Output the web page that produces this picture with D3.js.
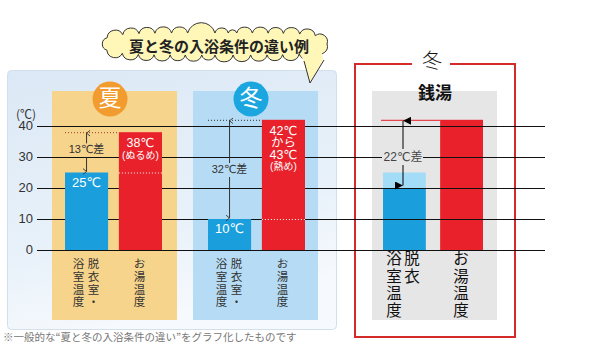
<!DOCTYPE html>
<html>
<head>
<meta charset="utf-8">
<script src="https://cdn.jsdelivr.net/npm/d3@7"></script>
<style>
  body { margin: 0; background: #fff; }
  svg { display: block; }
  text { font-family: "Noto Sans CJK JP", "Noto Sans", sans-serif; }
  .num { font-family: "Liberation Sans", "DejaVu Sans", "Noto Sans CJK JP", sans-serif; }
</style>
</head>
<body>
<svg id="chart"></svg>
<script>
// ---- data ----
const yTicks = [0, 10, 20, 30, 40]
const seasons = ['夏', '冬']
const roomTemps = [25, 10]
const bathTemps = [38, 42]
const roomLabels = [['25℃'], ['10℃']]
const bathLabels = [['38℃', '(ぬるめ)'], ['42℃', 'から', '43℃', '(熱め)']]
const diffLabels = ['13℃差', '32℃差']
const categories = ['room', 'bath']
const sentoTitle = '銭湯'
const sentoSeason = '冬'
const sentoRoomLow = 20
const sentoRoom = 25
const sentoBath = 42
const sentoDiff = '22℃差'
const title = '夏と冬の入浴条件の違い例'
const footnote = '※一般的な“夏と冬の入浴条件の違い”をグラフ化したものです'

const width = 595, height = 358
const svg = d3.select('#chart').attr('width', width).attr('height', height)

const colBlue = '#1a9fdc', colRed = '#e8212b'

let scale_y = d3.scaleLinear().domain([0, 40]).range([250, 126])
const lineX0 = 37, lineX1 = 545

// defs: gradient + markers
const defs = svg.append('defs')
const grad = defs.append('linearGradient').attr('id', 'bgGrad')
    .attr('x1', 0).attr('y1', 0).attr('x2', 0.3).attr('y2', 1)
grad.append('stop').attr('offset', 0).attr('stop-color', '#dbe8f5')
grad.append('stop').attr('offset', 0.7).attr('stop-color', '#e9f2fa')
grad.append('stop').attr('offset', 1).attr('stop-color', '#f6f9fd')

defs.append('marker').attr('id', 'chev')
    .attr('viewBox', '0 0 10 10').attr('refX', 5).attr('refY', 1)
    .attr('markerWidth', 7).attr('markerHeight', 7).attr('markerUnits', 'userSpaceOnUse')
    .attr('orient', 'auto-start-reverse')
    .append('path').attr('d', 'M1,6 L5,1 L9,6').attr('fill', 'none')
    .attr('stroke', '#333').attr('stroke-width', 1.3)
defs.append('marker').attr('id', 'tri')
    .attr('viewBox', '0 0 10 10').attr('refX', 5).attr('refY', 0)
    .attr('markerWidth', 8).attr('markerHeight', 8).attr('markerUnits', 'userSpaceOnUse')
    .attr('orient', 'auto-start-reverse')
    .append('path').attr('d', 'M0,10 L5,0 L10,10 Z').attr('fill', '#000')

// outer light box
svg.append('rect').attr('x', 7.5).attr('y', 70.5).attr('width', 329).attr('height', 259)
    .attr('rx', 4).attr('fill', 'url(#bgGrad)').attr('stroke', '#d3e0ec')

// ---- title cloud ----
function cloudPath(cx, cy, rx, ry, bumpLen) {
    // superellipse outline sampled by arc length, then little arcs between points
    let pts = []
    for (let i = 0; i <= 720; i++) {
        let t = i / 720 * 2 * Math.PI
        let c = Math.cos(t), s = Math.sin(t)
        pts.push([cx + rx * Math.sign(c) * Math.pow(Math.abs(c), 0.45),
                  cy + ry * Math.sign(s) * Math.pow(Math.abs(s), 0.6)])
    }
    let total = 0, acc = [0]
    for (let i = 1; i < pts.length; i++) {
        total += Math.hypot(pts[i][0] - pts[i - 1][0], pts[i][1] - pts[i - 1][1])
        acc.push(total)
    }
    let n = Math.round(total / bumpLen), sel = []
    for (let k = 0; k < n; k++) {
        let j = d3.bisectLeft(acc, k * total / n)
        sel.push(pts[Math.min(j, pts.length - 1)])
    }
    let d = 'M' + sel[0][0] + ',' + sel[0][1]
    for (let k = 0; k < n; k++) {
        let a = sel[k], b = sel[(k + 1) % n]
        let r = Math.hypot(b[0] - a[0], b[1] - a[1]) * 0.52
        d += ' A' + r + ',' + r + ' 0 0 1 ' + b[0] + ',' + b[1]
    }
    return d + 'Z'
}
const cloud = svg.append('g')
cloud.append('path').attr('d', cloudPath(215, 44, 112, 11, 16))
    .attr('fill', '#fff7b8').attr('stroke', '#333').attr('stroke-width', 1)
cloud.append('path').attr('d', 'M300,52 L304,62 L310,83 L323,60 L322,52 Z')
    .attr('fill', '#fff7b8')
cloud.append('path').attr('d', 'M304,61 L310,83 L324,60')
    .attr('fill', 'none').attr('stroke', '#333').attr('stroke-width', 1)
cloud.append('text').attr('x', 219).attr('y', 48).attr('text-anchor', 'middle')
    .attr('dominant-baseline', 'middle').attr('font-size', 15).attr('font-weight', 'bold')
    .attr('fill', '#222').text(title)

// ---- season panels ----
const panelX = d3.scaleOrdinal().domain(seasons).range([52, 193])
const panelFill = d3.scaleOrdinal().domain(seasons).range(['#f7d48b', '#b6dcf5'])
const circleFill = d3.scaleOrdinal().domain(seasons).range(['#f29b2f', '#1ca6e0'])
const barOffset = d3.scaleOrdinal().domain(seasons).range([65, 208])
const scale_x = d3.scaleBand().domain(categories).range([0, 97]).paddingInner(0.2)

const panels = svg.selectAll('g.panel').data(seasons).join('g').attr('class', 'panel')
panels.append('rect').attr('x', d => panelX(d)).attr('y', 91)
    .attr('width', 125).attr('height', 229).attr('fill', d => panelFill(d))
panels.append('circle').attr('cx', d => panelX(d) + 58).attr('cy', 99).attr('r', 17.5)
    .attr('fill', d => circleFill(d))
panels.append('text').attr('x', d => panelX(d) + 58).attr('y', 100)
    .attr('text-anchor', 'middle').attr('dominant-baseline', 'middle')
    .attr('font-size', 23).attr('fill', '#fff').text(d => d)

// ---- grid lines + y labels ----
svg.selectAll('line.grid').data(yTicks).join('line').attr('class', 'grid')
    .attr('x1', lineX0).attr('x2', lineX1)
    .attr('y1', d => scale_y(d) + 0.5).attr('y2', d => scale_y(d) + 0.5)
    .attr('stroke', '#111').attr('stroke-width', 1)
svg.selectAll('text.ytick').data(yTicks).join('text').attr('class', 'ytick num')
    .attr('x', 33).attr('y', d => scale_y(d) + 1).attr('text-anchor', 'end')
    .attr('dominant-baseline', 'middle').attr('font-size', 13).attr('fill', '#333')
    .text(d => d)
svg.append('text').attr('x', 26).attr('y', 116).attr('text-anchor', 'middle')
    .attr('dominant-baseline', 'middle').attr('font-size', 12).attr('fill', '#333').text('(℃)')

// ---- left bars ----
seasons.forEach((s, i) => {
    let g = svg.append('g').attr('transform', 'translate(' + barOffset(s) + ',0)')
    let xr = scale_x('room'), xb = scale_x('bath'), bw = scale_x.bandwidth()
    let yr = scale_y(roomTemps[i]), yb = scale_y(bathTemps[i])
    g.append('rect').attr('x', xr).attr('y', yr).attr('width', bw)
        .attr('height', scale_y(0) - yr).attr('fill', colBlue)
    g.append('rect').attr('x', xb).attr('y', yb).attr('width', bw)
        .attr('height', scale_y(0) - yb).attr('fill', colRed)
    // dotted guides
    g.append('line').attr('x1', xr).attr('x2', xb).attr('y1', yb + 0.5).attr('y2', yb + 0.5)
        .attr('stroke', i == 0 ? '#9b3b2a' : '#333').attr('stroke-dasharray', '1,2')
    g.append('line').attr('x1', xb).attr('x2', xb + bw).attr('y1', yr + 0.5).attr('y2', yr + 0.5)
        .attr('stroke', '#fff').attr('stroke-dasharray', '1,2')
    // arrow with difference label
    let cx = xr + bw / 2
    let ly = i == 0 ? (yb + yr) / 2 - 2 : 170
    g.append('line').attr('x1', cx).attr('x2', cx).attr('y1', yb + 1).attr('y2', ly - 7)
        .attr('stroke', '#333').attr('marker-start', 'url(#chev)')
    g.append('line').attr('x1', cx).attr('x2', cx).attr('y1', ly + 7).attr('y2', yr - 1)
        .attr('stroke', '#333').attr('marker-end', 'url(#chev)')
    g.append('text').attr('class', 'num').attr('x', cx).attr('y', ly).attr('text-anchor', 'middle')
        .attr('dominant-baseline', 'middle').attr('font-size', 11).attr('fill', '#333')
        .text(diffLabels[i])
    // values in bars
    g.selectAll('text.rv').data(roomLabels[i]).join('text').attr('class', 'rv num')
        .attr('x', cx).attr('y', (d, k) => yr + 11 + k * 12).attr('text-anchor', 'middle')
        .attr('dominant-baseline', 'middle').attr('font-size', 13).attr('fill', '#fff').text(d => d)
    g.selectAll('text.bv').data(bathLabels[i]).join('text').attr('class', 'bv num')
        .attr('x', xb + bw / 2).attr('y', (d, k) => yb + 12 + k * 12).attr('text-anchor', 'middle')
        .attr('dominant-baseline', 'middle').attr('font-size', d => d.startsWith('(') ? 10 : 12.5)
        .attr('fill', '#fff').text(d => d)
    // vertical category labels
    let cols = [[cx - 8, '浴室温度'], [cx + 7, '脱衣室・'], [xb + bw / 2 - 1, 'お湯温度']]
    cols.forEach(c => {
        g.selectAll(null).data(Array.from(c[1])).join('text')
            .attr('x', c[0]).attr('y', (d, k) => 265 + k * 12.7).attr('text-anchor', 'middle')
            .attr('dominant-baseline', 'middle').attr('font-size', 11.5).attr('fill', '#333')
            .text(d => d)
    })
})

// ---- right panel (銭湯) ----
const right = svg.append('g')
right.append('path').attr('d', 'M412,64 H355 V337 H515 V64 H450')
    .attr('fill', 'none').attr('stroke', '#d42a2a').attr('stroke-width', 2)
right.append('text').attr('x', 432).attr('y', 63).attr('text-anchor', 'middle')
    .attr('dominant-baseline', 'middle').attr('font-size', 20).attr('fill', '#111')
    .attr('font-weight', 300).text(sentoSeason)
right.append('rect').attr('x', 372).attr('y', 91).attr('width', 125).attr('height', 229)
    .attr('fill', '#e6e6e6')
right.append('text').attr('x', 435).attr('y', 94).attr('text-anchor', 'middle')
    .attr('dominant-baseline', 'middle').attr('font-size', 17).attr('font-weight', 'bold')
    .attr('fill', '#111').text(sentoTitle)

let sx = d3.scaleBand().domain(categories).range([383, 483]).paddingInner(0.25)
right.append('rect').attr('x', sx('room')).attr('y', scale_y(sentoRoomLow))
    .attr('width', sx.bandwidth()).attr('height', scale_y(0) - scale_y(sentoRoomLow)).attr('fill', colBlue)
right.append('rect').attr('x', sx('room')).attr('y', scale_y(sentoRoom))
    .attr('width', sx.bandwidth()).attr('height', scale_y(sentoRoomLow) - scale_y(sentoRoom)).attr('fill', '#a3dcf7')
right.append('rect').attr('x', sx('bath')).attr('y', scale_y(sentoBath))
    .attr('width', sx.bandwidth()).attr('height', scale_y(0) - scale_y(sentoBath)).attr('fill', colRed)
right.append('line').attr('x1', 381).attr('x2', sx('bath')).attr('y1', scale_y(sentoBath) + 0.5)
    .attr('y2', scale_y(sentoBath) + 0.5).attr('stroke', '#e8212b')

// grid lines redrawn on top of right panel
right.selectAll('line.grid2').data(yTicks).join('line').attr('class', 'grid2')
    .attr('x1', 345).attr('x2', lineX1)
    .attr('y1', d => scale_y(d) + 0.5).attr('y2', d => scale_y(d) + 0.5)
    .attr('stroke', '#111').attr('stroke-width', 1)

let ax = 403, ly = 157
right.append('rect').attr('x', 382).attr('y', ly - 8).attr('width', 41).attr('height', 16).attr('fill', '#e6e6e6')
right.append('line').attr('x1', ax).attr('x2', ax).attr('y1', scale_y(sentoBath) + 1).attr('y2', ly - 8)
    .attr('stroke', '#000').attr('marker-start', 'url(#tri)')
right.append('line').attr('x1', ax).attr('x2', ax).attr('y1', ly + 8).attr('y2', scale_y(sentoRoom) + 13)
    .attr('stroke', '#000').attr('marker-end', 'url(#tri)')
right.append('text').attr('class', 'num').attr('x', ax).attr('y', ly + 1).attr('text-anchor', 'middle')
    .attr('dominant-baseline', 'middle').attr('font-size', 12).attr('fill', '#444').text(sentoDiff)

let rcols = [[394, '浴室温度'], [412, '脱衣'], [461, 'お湯温度']]
rcols.forEach(c => {
    right.selectAll(null).data(Array.from(c[1])).join('text')
        .attr('x', c[0]).attr('y', (d, k) => 260 + k * 17.3).attr('text-anchor', 'middle')
        .attr('dominant-baseline', 'middle').attr('font-size', 15.5)
        .attr('fill', '#111').text(d => d)
})

// footnote
svg.append('text').attr('x', 3).attr('y', 338).attr('dominant-baseline', 'middle')
    .attr('font-size', 10.5).attr('fill', '#777').text(footnote)
</script>
</body>
</html>
